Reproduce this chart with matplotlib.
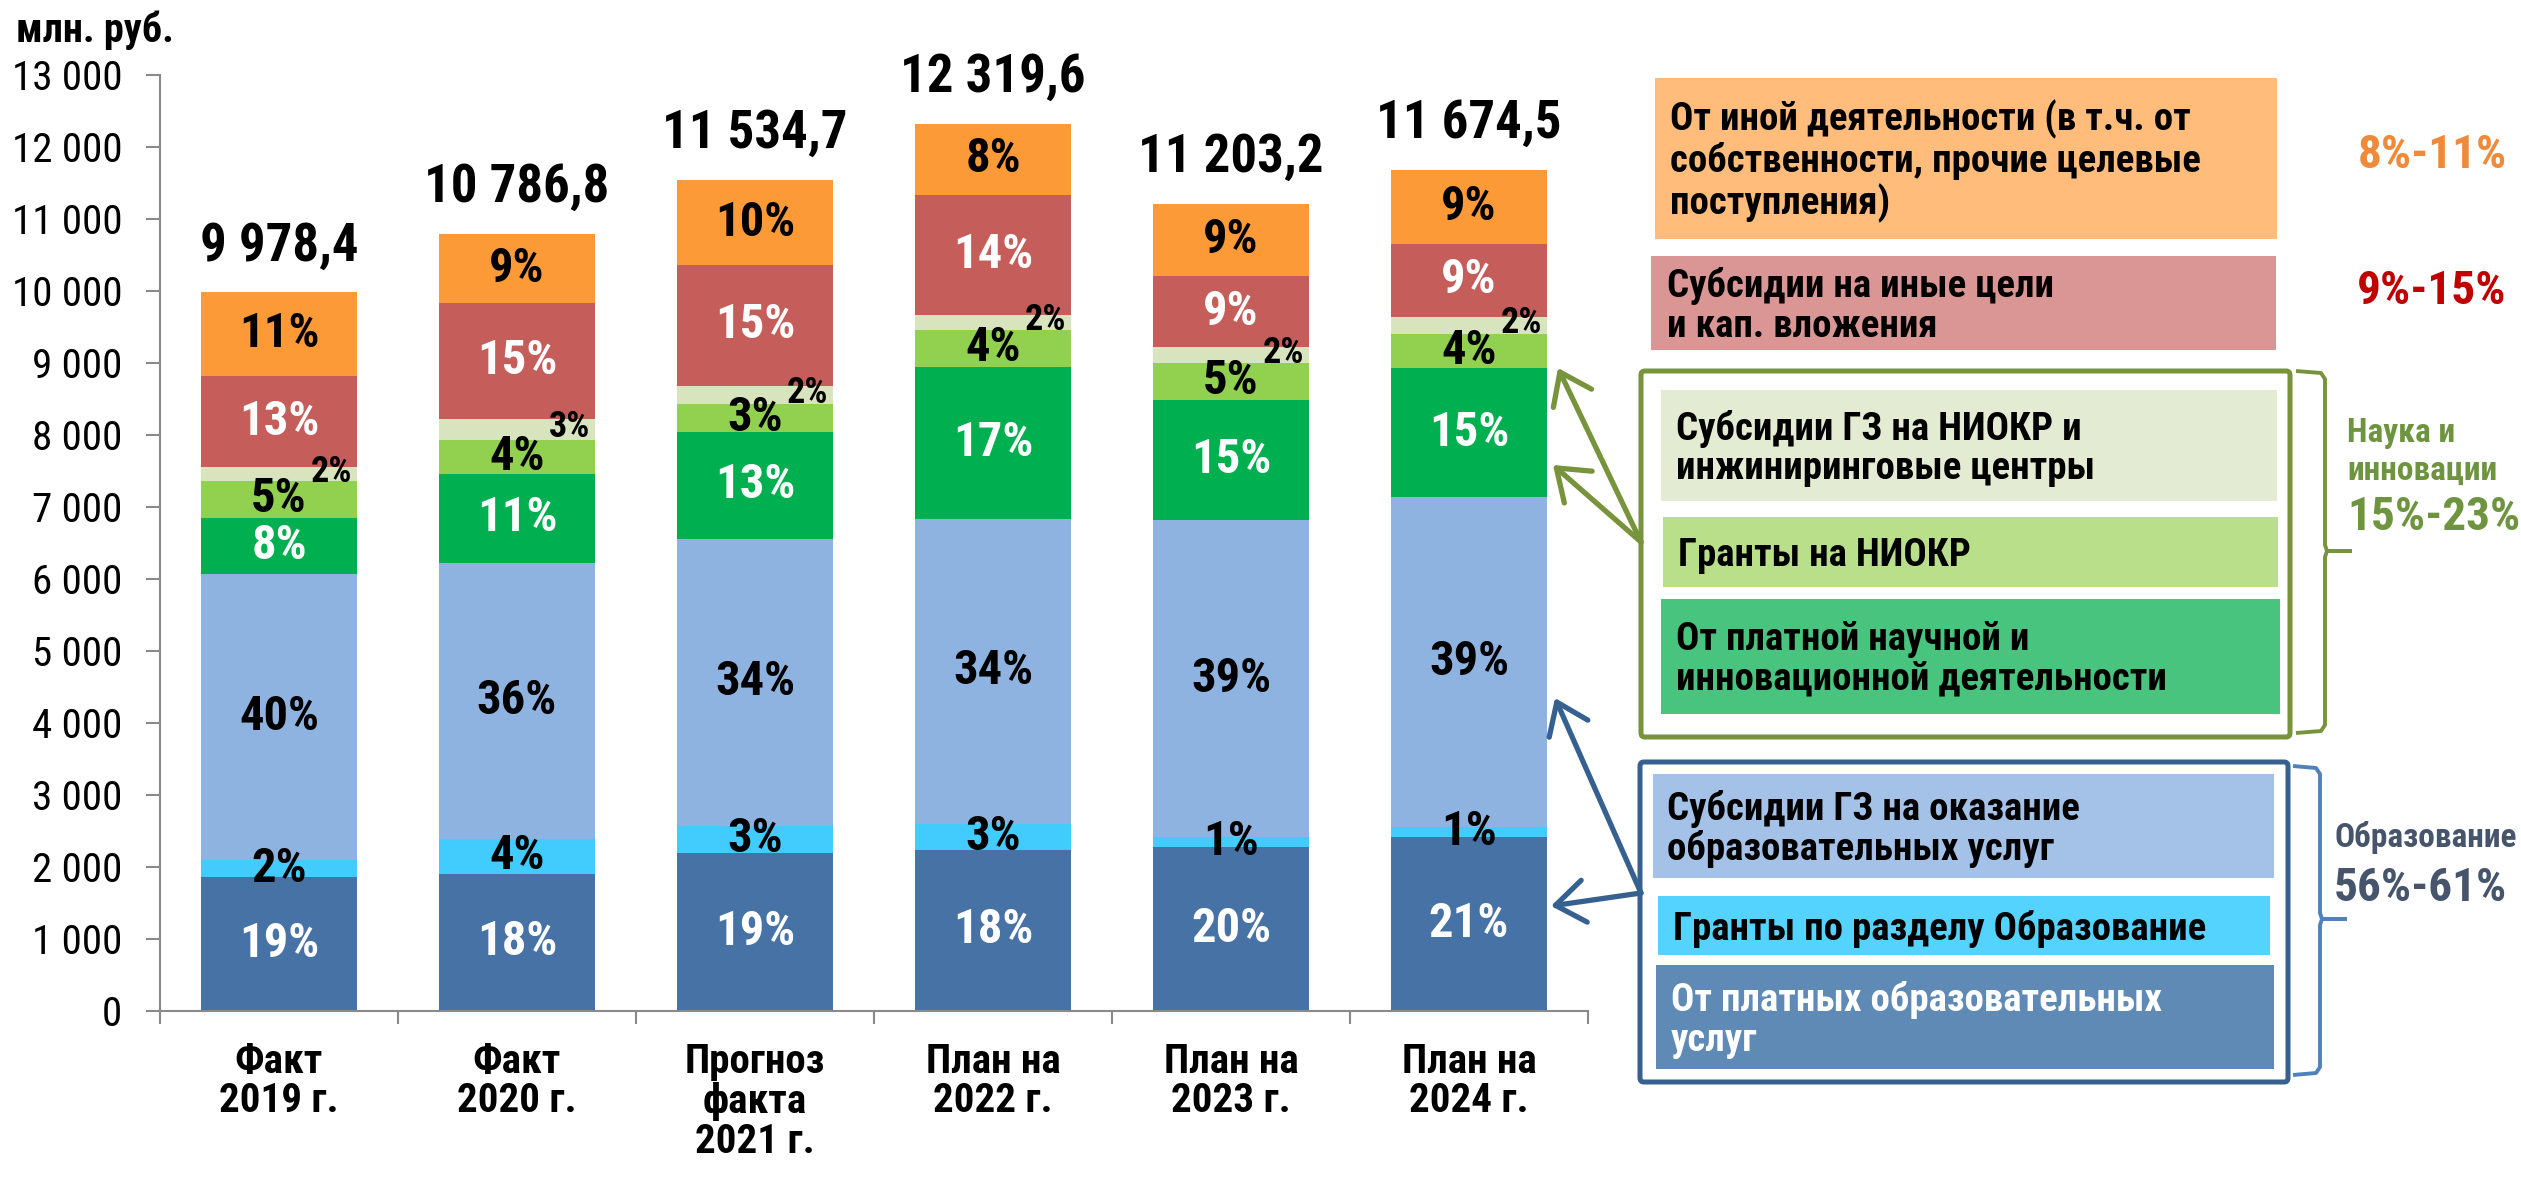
import matplotlib
matplotlib.use('Agg')
import matplotlib.pyplot as plt
from matplotlib import font_manager
from matplotlib.patches import Rectangle, FancyBboxPatch
import numpy as np

names = {f.name for f in font_manager.fontManager.ttflist}
FONT = 'DejaVu Sans'
for cand in ['Liberation Sans Narrow', 'Arial Narrow', 'DejaVu Sans Condensed', 'Roboto Condensed', 'Liberation Sans']:
    if cand in names:
        FONT = cand
        break
plt.rcParams['font.family'] = [FONT, 'DejaVu Sans']

# ---------------- data ----------------
categories = ['Факт\n2019 г.', 'Факт\n2020 г.', 'Прогноз\nфакта\n2021 г.',
              'План на\n2022 г.', 'План на\n2023 г.', 'План на\n2024 г.']
total_labels = ['9 978,4', '10 786,8', '11 534,7', '12 319,6', '11 203,2', '11 674,5']

paid_edu = [1858, 1908, 2191, 2241, 2280, 2420]
grants_edu = [233, 479, 384, 351, 129, 133]
subs_edu = [3976, 3838, 3980, 4244, 4412, 4576]
paid_sci = [780, 1233, 1488, 2110, 1663, 1795]
grants_rd = [515, 468, 383, 510, 515, 479]
subs_rd = [192, 292, 254, 207, 218, 234]
subs_other = [1259, 1610, 1674, 1663, 983, 1014]
other_act = [1165, 959, 1181, 994, 1003, 1021]

pct_paid_edu = ['19%', '18%', '19%', '18%', '20%', '21%']
pct_grants_edu = ['2%', '4%', '3%', '3%', '1%', '1%']
pct_subs_edu = ['40%', '36%', '34%', '34%', '39%', '39%']
pct_paid_sci = ['8%', '11%', '13%', '17%', '15%', '15%']
pct_grants_rd = ['5%', '4%', '3%', '4%', '5%', '4%']
pct_subs_rd = ['2%', '3%', '2%', '2%', '2%', '2%']
pct_subs_other = ['13%', '15%', '15%', '14%', '9%', '9%']
pct_other = ['11%', '9%', '10%', '8%', '9%', '9%']

series = [paid_edu, grants_edu, subs_edu, paid_sci, grants_rd, subs_rd, subs_other, other_act]
pcts = [pct_paid_edu, pct_grants_edu, pct_subs_edu, pct_paid_sci, pct_grants_rd,
        pct_subs_rd, pct_subs_other, pct_other]
colors = ['#4672A6', '#42CBFD', '#8FB3E0', '#00AF50', '#92D050', '#D8E4BD', '#C55E5B', '#FD9A38']
label_colors = ['white', 'black', 'black', 'white', 'black', 'black', 'white', 'black']

# ---------------- figure ----------------
W, H = 2521, 1178
fig = plt.figure(figsize=(W / 100, H / 100), dpi=100)
ax = fig.add_axes([160 / W, 1 - 1011 / H, (1588 - 160) / W, (1011 - 74.6) / H])

x = np.arange(len(categories))
bottom = np.zeros(len(categories))
bw = 0.653
for k, (vals, c) in enumerate(zip(series, colors)):
    vals = np.array(vals, dtype=float)
    ax.bar(x, vals, bottom=bottom, width=bw, color=c, linewidth=0, zorder=2)
    for j in range(len(x)):
        if k == 5:
            ax.text(x[j] + 0.22, bottom[j] + vals[j] / 2 + 30, pcts[k][j], ha='center', va='center',
                    fontsize=26, fontweight='bold', color=label_colors[k], zorder=4)
        else:
            ax.text(x[j], bottom[j] + vals[j] / 2, pcts[k][j], ha='center', va='center',
                    fontsize=35, fontweight='bold', color=label_colors[k], zorder=3)
    bottom = bottom + vals

for j in range(len(x)):
    ax.annotate(total_labels[j], xy=(x[j], bottom[j]), xytext=(0, 23), textcoords='offset points',
                ha='center', va='baseline', fontsize=38, fontweight='bold', color='black')

ax.set_xlim(-0.5, len(x) - 0.5)
ax.set_ylim(0, 13000)
ax.set_yticks(np.arange(0, 13001, 1000))
ax.set_yticklabels([f"{int(v):,}".replace(',', ' ') for v in np.arange(0, 13001, 1000)])
ax.set_xticks(x)
ax.set_xticklabels(categories, fontsize=29.5, fontweight='bold', linespacing=1.05)
ax.set_xticks(np.arange(-0.5, len(x), 1), minor=True)
gray = '#8A8A8A'
ax.tick_params(axis='y', length=10, width=1.5, color=gray, pad=17, labelsize=29.5)
ax.tick_params(axis='x', which='major', length=0, pad=23)
ax.tick_params(axis='x', which='minor', length=9, width=1.5, color=gray)
for s in ['top', 'right']:
    ax.spines[s].set_visible(False)
for s in ['left', 'bottom']:
    ax.spines[s].set_color(gray)
    ax.spines[s].set_linewidth(1.5)

fig.text(16 / W, 1 - 30 / H, 'млн. руб.', ha='left', va='center', fontsize=29, fontweight='bold')

# ---------------- legend overlay (pixel coordinates) ----------------
ov = fig.add_axes([0, 0, 1, 1], zorder=5)
ov.set_xlim(0, W)
ov.set_ylim(H, 0)
ov.axis('off')

def box(x0, y0, x1, y1, fc, text, tx, tcolor='black', size=28):
    ov.add_patch(Rectangle((x0, y0), x1 - x0, y1 - y0, facecolor=fc, edgecolor='none'))
    ov.text(tx, (y0 + y1) / 2 + 3, text, ha='left', va='center', fontsize=size, fontweight='bold',
            color=tcolor, linespacing=1.1)

box(1655, 78, 2277, 239, '#FFBC7A', 'От иной деятельности (в т.ч. от\nсобственности, прочие целевые\nпоступления)', 1670)
box(1651, 256, 2276, 350, '#D99695', 'Субсидии на иные цели\nи кап. вложения', 1667)

green = '#77933C'
blue_dark = '#36608F'
ov.add_patch(FancyBboxPatch((1641, 371), 649, 366, boxstyle='round,pad=0,rounding_size=4',
                            facecolor='none', edgecolor=green, linewidth=3.6))
box(1661, 390, 2277, 501, '#E3EBD2', 'Субсидии ГЗ на НИОКР и\nинжиниринговые центры', 1676)
box(1663, 517, 2278, 587, '#B9DF8A', 'Гранты на НИОКР', 1678)
box(1661, 599, 2280, 714, '#48C47F', 'От платной научной и\nинновационной деятельности', 1676)

ov.add_patch(FancyBboxPatch((1640, 762), 648, 320, boxstyle='round,pad=0,rounding_size=4',
                            facecolor='none', edgecolor=blue_dark, linewidth=3.6))
box(1653, 774, 2274, 878, '#A4C2E8', 'Субсидии ГЗ на оказание\nобразовательных услуг', 1667)
box(1658, 896, 2270, 955, '#55D3FF', 'Гранты по разделу Образование', 1673)
box(1656, 965, 2274, 1069, '#5F8AB5', 'От платных образовательных\nуслуг', 1671, tcolor='white')

# arrows
ap = dict(arrowstyle='->,head_length=0.55,head_width=0.4', lw=3.8, mutation_scale=38,
          shrinkA=0, shrinkB=0, capstyle='round', joinstyle='round')
ov.annotate('', xy=(1558, 368), xytext=(1641, 542), arrowprops=dict(color=green, **ap))
ov.annotate('', xy=(1553, 465), xytext=(1641, 542), arrowprops=dict(color=green, **ap))
ov.annotate('', xy=(1555, 698), xytext=(1641, 893), arrowprops=dict(color=blue_dark, **ap))
ov.annotate('', xy=(1551, 906), xytext=(1641, 893), arrowprops=dict(color=blue_dark, **ap))

# brackets
def bracket(xl, xv, xt, ytop, ymid, ybot, color):
    ov.plot([xl, xv - 4, xv, xv, xv + 2, xt], [ytop, ytop + 2, ytop + 8, ymid - 6, ymid, ymid],
            color=color, lw=2.8, solid_capstyle='butt')
    ov.plot([xt, xv + 2, xv, xv, xv - 4, xl], [ymid, ymid, ymid + 6, ybot - 8, ybot - 2, ybot],
            color=color, lw=2.8, solid_capstyle='butt')

bracket(2296, 2325, 2352, 371, 551, 733, green)
bracket(2293, 2320, 2347, 766, 919, 1075, '#4F81BD')

# side texts
ov.text(2358, 155, '8%-11%', ha='left', va='center', fontsize=34, fontweight='bold', color='#EE8A3A')
ov.text(2357, 291, '9%-15%', ha='left', va='center', fontsize=34, fontweight='bold', color='#C00000')
ov.text(2347, 452, 'Наука и\nинновации', ha='left', va='center', fontsize=24, fontweight='bold',
        color='#6F9440', linespacing=1.25)
ov.text(2347, 517, '15%-23%', ha='left', va='center', fontsize=34, fontweight='bold', color='#6F9440')
ov.text(2334, 838, 'Образование', ha='left', va='center', fontsize=24, fontweight='bold', color='#46556B')
ov.text(2334, 888, '56%-61%', ha='left', va='center', fontsize=34, fontweight='bold', color='#46556B')

fig.savefig('out.png', dpi=100)
